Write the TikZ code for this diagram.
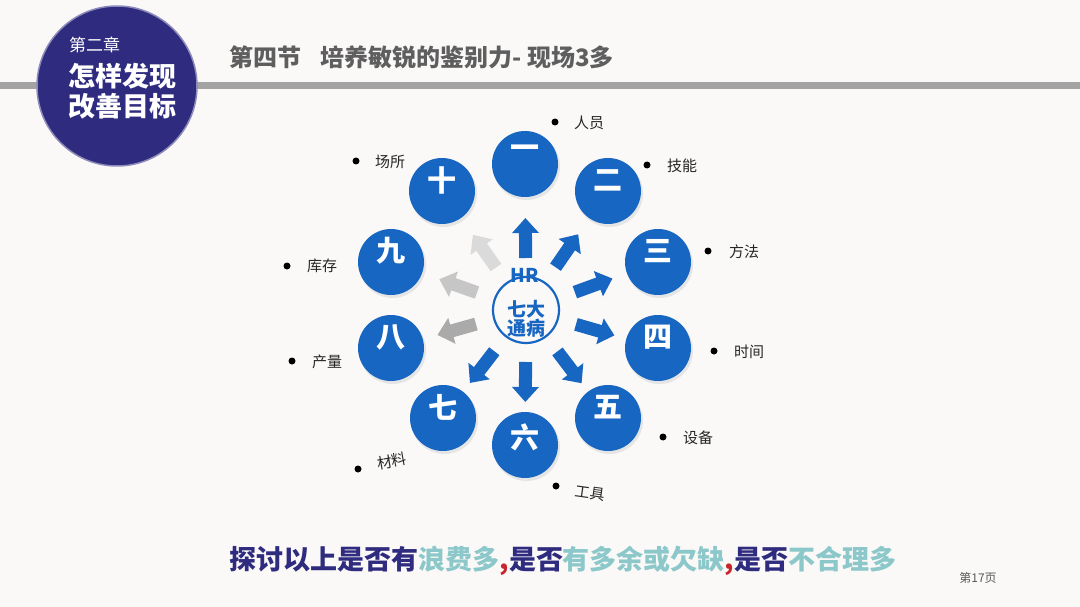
\documentclass[tikz,border=0pt]{standalone}
\usepackage{fontspec}
\setmainfont{Noto Sans CJK SC}
\usetikzlibrary{arrows.meta,calc}
\definecolor{bg}{HTML}{FBF8F8}
\definecolor{navy}{HTML}{2F2C80}
\definecolor{bblue}{HTML}{1766C2}
\definecolor{tealtxt}{HTML}{8CC8CA}
\definecolor{mred}{HTML}{C8262C}
\definecolor{barg}{HTML}{A3A3A3}
\definecolor{titleg}{HTML}{5E5E5E}
\definecolor{gA}{HTML}{DADADA}
\definecolor{gB}{HTML}{C6C6C6}
\definecolor{gC}{HTML}{AAAAAA}
\tikzset{
  bc/.style={circle, fill=bblue, minimum size=66pt, inner sep=0pt},
  bcs/.style={circle, fill=black!10, minimum size=67pt, inner sep=0pt},
  numtxt/.style={text=white, font=\bfseries\fontsize{29}{29}\selectfont, inner sep=0pt},
  dotn/.style={circle, fill=black, minimum size=7pt, inner sep=0pt},
  lbl/.style={anchor=west, text=black!85, font=\fontsize{15}{15}\selectfont, inner sep=0pt},
  arr/.style={line width=13pt, -{Triangle[width=26pt,length=15pt]}},
  hrtxt/.style={text=bblue, font=\bfseries\fontsize{19}{19}\selectfont, inner sep=0pt}
}
\begin{document}
\begin{tikzpicture}[x=1pt,y=-1pt]
\fill[bg] (0,0) rectangle (1080,607);
\useasboundingbox (0,0) rectangle (1080,607);
% header bar
\fill[barg] (0,82) rectangle (1080,89);
\node[circle, fill=navy, draw=navy!55!white, line width=1.5pt, minimum size=160pt, inner sep=0pt] (chap) at (117,86) {};
\node[anchor=west, text=white, font=\fontsize{17}{17}\selectfont, inner sep=0pt] (chapno) at (69,45) {第二章};
\node[anchor=west, text=white, font=\bfseries\fontsize{27}{27}\selectfont, inner sep=0pt] (chapl1) at (68,76) {怎样发现};
\node[anchor=west, text=white, font=\bfseries\fontsize{27}{27}\selectfont, inner sep=0pt] (chapl2) at (68,106) {改善目标};
\node[anchor=west, text=titleg, font=\bfseries\fontsize{24}{24}\selectfont, inner sep=0pt] (title) at (229,57) {第四节\hspace{0.8em}培养敏锐的鉴别力- 现场3多};
% centre
\node[circle, draw=bblue, line width=2.2pt, minimum size=66pt, inner sep=0pt] (hr) at (526,310) {};
% shadows
\foreach \px/\py in {525/164,608/191,658/262,658/348,608/418,525/445,443/418,391/348,391/262,442/191}{
  \node[bcs] at (\px+1.5,\py+2.5) {};
}
% numbered circles
\node[bc] (c1) at (525,164) {};
\node[bc] (c2) at (608,191) {};
\node[bc] (c3) at (658,262) {};
\node[bc] (c4) at (658,348) {};
\node[bc] (c5) at (608,418) {};
\node[bc] (c6) at (525,445) {};
\node[bc] (c7) at (443,418) {};
\node[bc] (c8) at (391,348) {};
\node[bc] (c9) at (391,262) {};
\node[bc] (c10) at (442,191) {};
\node[numtxt] (t1) at ($(c1)+(0,-12)$) {一};
\node[numtxt] (t2) at ($(c2)+(0,-11)$) {二};
\node[numtxt] (t3) at ($(c3)+(0,-11)$) {三};
\node[numtxt] (t4) at ($(c4)+(0,-11)$) {四};
\node[numtxt] (t5) at ($(c5)+(0,-11)$) {五};
\node[numtxt] (t6) at ($(c6)+(0,-8)$) {六};
\node[numtxt] (t7) at ($(c7)+(0,-11)$) {七};
\node[numtxt] (t8) at ($(c8)+(0,-11)$) {八};
\node[numtxt] (t9) at ($(c9)+(0,-11)$) {九};
\node[numtxt] (t10) at ($(c10)+(0,-11)$) {十};
% arrows
\foreach \c in {c1,c2,c3,c4,c5,c6,c7}{
  \draw[arr, draw=bblue] ($(hr)!52pt!(\c)$) -- ($(hr)!92pt!(\c)$);
}
\draw[arr, draw=gC] ($(hr)!52pt!(c8)$) -- ($(hr)!92pt!(c8)$);
\draw[arr, draw=gB] ($(hr)!52pt!(c9)$) -- ($(hr)!92pt!(c9)$);
\draw[arr, draw=gA] ($(hr)!52pt!(c10)$) -- ($(hr)!92pt!(c10)$);
% HR texts
\node[hrtxt] (hrt) at (525,275) {HR};
\node[hrtxt] (hrt2) at (526,309) {七大};
\node[hrtxt] (hrt3) at (526,328) {通病};
% bullet labels
\node[dotn] (d1) at (555,122) {}; \node[lbl] (l1) at (574,123) {人员};
\node[dotn] (d2) at (647,165) {}; \node[lbl] (l2) at (667,166) {技能};
\node[dotn] (d3) at (708,251) {}; \node[lbl] (l3) at (729,252) {方法};
\node[dotn] (d4) at (714,351) {}; \node[lbl] (l4) at (734,352) {时间};
\node[dotn] (d5) at (663,437) {}; \node[lbl] (l5) at (683,438) {设备};
\node[dotn] (d6) at (556,486) {}; \node[lbl, rotate=-8] (l6) at (575,491) {工具};
\node[dotn] (d7) at (358,469) {}; \node[lbl, rotate=10] (l7) at (377,464) {材料};
\node[dotn] (d8) at (292,361) {}; \node[lbl] (l8) at (312,362) {产量};
\node[dotn] (d9) at (287,266) {}; \node[lbl] (l9) at (307,266) {库存};
\node[dotn] (d10) at (356,161) {}; \node[lbl] (l10) at (375,162) {场所};
% bottom sentence
\node[font=\bfseries\fontsize{27}{27}\selectfont, inner sep=0pt] (bottom) at (563,561) {{\color{navy}探讨以上是否有}{\color{tealtxt}浪费多}{\color{mred},}{\color{navy}是否}{\color{tealtxt}有多余或欠缺}{\color{mred},}{\color{navy}是否}{\color{tealtxt}不合理多}};
\node[text=black!65, font=\fontsize{12}{12}\selectfont, inner sep=0pt] (page) at (978,578) {第17页};
\end{tikzpicture}
\end{document}
